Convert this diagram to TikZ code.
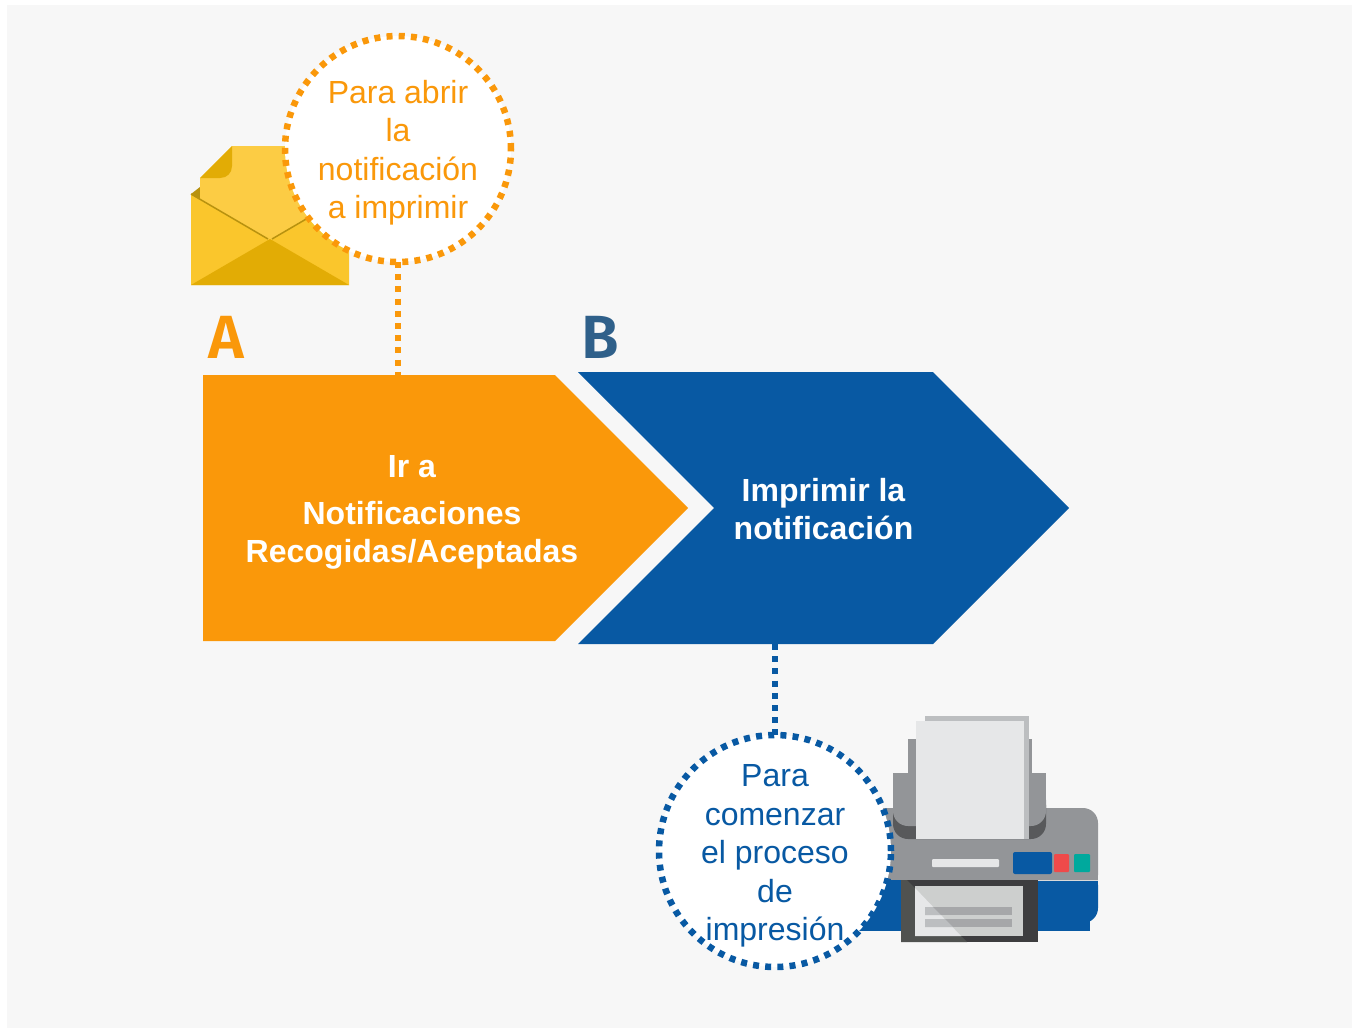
\documentclass[tikz,border=0pt]{standalone}
\usepackage{fontspec}
\setmainfont{Liberation Sans}
\newfontfamily\letrafont{Fira Sans SemiBold}
\usepackage{xcolor}
\usetikzlibrary{positioning,shapes.symbols}
\definecolor{naranja}{HTML}{FA980A}
\definecolor{azul}{HTML}{0859A3}
\definecolor{azulB}{HTML}{2F608A}
\definecolor{fondo}{HTML}{F7F7F7}
\definecolor{sobre}{HTML}{FAC62C}
\definecolor{sobreosc}{HTML}{E2AC05}
\definecolor{hoja}{HTML}{FCCC44}
\definecolor{sombra}{HTML}{B8920F}
\definecolor{gris}{HTML}{939598}
\definecolor{grisosc}{HTML}{58595B}
\definecolor{papel}{HTML}{E6E7E8}
\definecolor{papelb}{HTML}{BCBEC0}
\definecolor{bandeja}{HTML}{3D3D3F}
\definecolor{bandejab}{HTML}{505250}
\definecolor{hojab}{HTML}{CDCFCE}
\definecolor{raya}{HTML}{A6A7A9}
\definecolor{rojo}{HTML}{EF4A4A}
\definecolor{verde}{HTML}{00A99D}

\begin{document}
\begin{tikzpicture}[
        x=1pt, y=-1pt,
        texto/.style={align=center, font=\fontsize{32}{38.5}\selectfont},
        negrita/.style={texto, text=white, font=\fontsize{32}{38.5}\selectfont\bfseries},
        letra/.style={font=\fontsize{61}{61}\selectfont\letrafont, inner sep=0pt},
        flecha/.style={signal, signal to=east, signal pointer angle=90, inner sep=0pt, outer sep=0pt},
        nota/.style={circle, draw, fill=white, line width=6.5pt, dash pattern=on 6pt off 6.2pt, inner sep=0pt, outer sep=0pt},
        punteada/.style={line width=6.5pt, dash pattern=on 6pt off 6.2pt}
    ]
        \useasboundingbox (0,0) rectangle (1358,1029);
        \fill[white] (0,0) rectangle (1358,1029);
        \fill[fondo] (7,5) rectangle (1352,1028);

        % sobre
        \fill[sombra] (191,194) -- (200,187) -- (200,200) -- cycle;
        \fill[hoja] (200,178) -- (232,146) -- (345,146) -- (345,240) -- (200,240) -- cycle;
        \fill[sobreosc] (200,178) -- (232,146) -- (232,166) .. controls (232,173) and (227,178) .. (220,178) -- cycle;
        \fill[sobre] (191,194) -- (270,241) -- (349,194) -- (349,285) -- (191,285) -- cycle;
        \draw[sombra, line width=1.5pt] (191,194) -- (268,239);
        \draw[sombra, line width=1.5pt] (272,239) -- (349,194);
        \fill[sobreosc] (191,285) -- (270,239) -- (349,285) -- cycle;

        % impresora
        \fill[gris, rounded corners=15pt] (842,808) rectangle (1098,890);
        \fill[azul, rounded corners=15pt] (842,870) rectangle (1098,923);
        \fill[gris] (842,860) rectangle (1098,880);
        \fill[azul] (842,880) rectangle (1098,900);
        \fill[azul] (842,900) rectangle (1090,931);
        \fill[black!15] (1038,879.5) rectangle (1098,880.5);
        \fill[grisosc, rounded corners=15pt] (893,790) rectangle (1046,839);
        \fill[gris] (908,739) rectangle (1032,800);
        \fill[gris, rounded corners=15pt] (893,785) rectangle (1046,826);
        \fill[gris] (893,773) rectangle (1046,800);
        \fill[papelb] (925,716) rectangle (1029,839);
        \fill[papel] (916,721) rectangle (1024,839);
        \fill[papel, rounded corners=1pt] (932,859) rectangle (999,867);
        \fill[azul, rounded corners=2pt] (1013,852) rectangle (1052,874);
        \fill[rojo, rounded corners=1pt] (1054,854) rectangle (1069,872);
        \fill[verde, rounded corners=1pt] (1074,854) rectangle (1090,872);
        \fill[bandeja] (901,880) rectangle (1038,942);
        \fill[bandejab] (901,880) -- (907,880) -- (967,942) -- (901,942) -- cycle;
        \fill[hojab] (915,886) rectangle (1023,936);
        \fill[papel] (915,888) -- (961,936) -- (915,936) -- cycle;
        \fill[raya] (925,907) rectangle (1012,915);
        \fill[raya] (925,919) rectangle (1012,927);
        \fill[papelb] (925,907) -- (933,907) -- (941,915) -- (925,915) -- cycle;
        \fill[papelb] (925,919) -- (945,919) -- (953,927) -- (925,927) -- cycle;

        \node[flecha, fill=naranja, minimum width=485pt, minimum height=266pt] (recoger) at (379,508) {};
        \node[flecha, signal from=west, fill=azul, minimum width=491pt, minimum height=272pt] (imprimir) at (823.5,508) {};
        \node[negrita] (ir) at (412,512.5) {Ir a\\[8pt]Notificaciones\\Recogidas/Aceptadas};
        \node[negrita] (txtimprimir) at (823.5,509) {Imprimir la\\notificación};

        \node[letra, text=naranja, anchor=base] (a) at (226,358) {A};
        \node[letra, text=azulB, anchor=base] (b) at (600,358) {B};

        \node[nota, draw=naranja, minimum size=226pt] (abrir) at (398,149) {};
        \node[nota, draw=azul, minimum size=232pt] (comenzar) at (775,851) {};
        \node[texto, text=naranja] (txtabrir) at (398,152.5) {Para abrir\\la\\notificación\\a imprimir};
        \node[texto, text=azul] (txtcomenzar) at (775,856) {Para\\comenzar\\el proceso\\de\\impresión};

        \draw[punteada, draw=naranja] (abrir.south) -- (abrir.south |- recoger.north);
        \draw[punteada, draw=azul] (imprimir.south -| comenzar.north) -- (comenzar.north);
    \end{tikzpicture}
\end{document}
